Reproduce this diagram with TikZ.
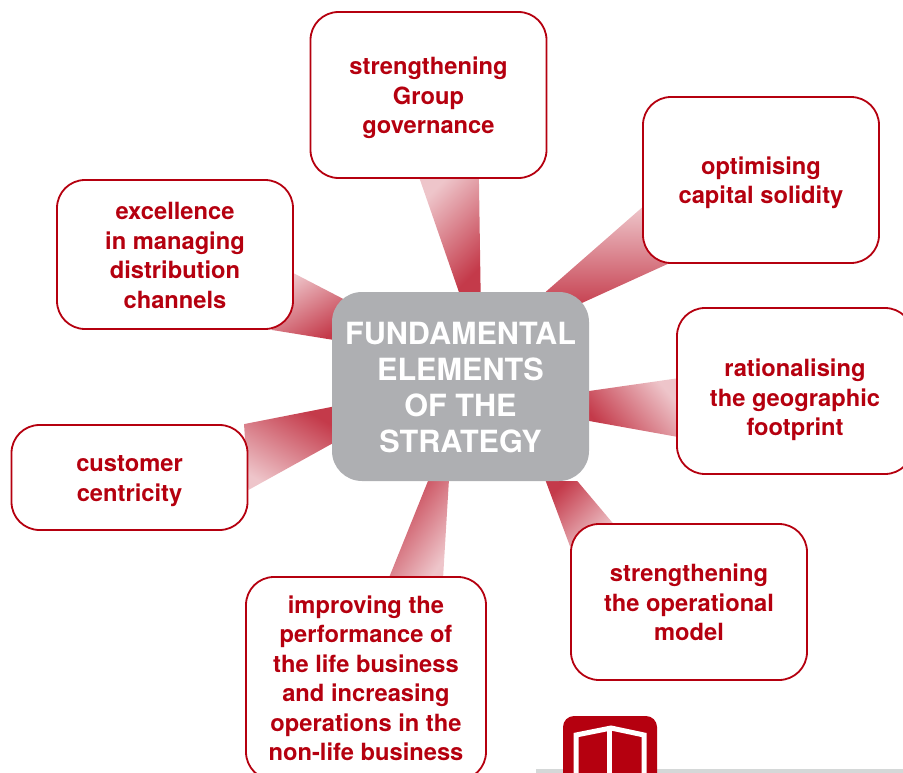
\documentclass[tikz,border=0pt]{standalone}
\usepackage{fontspec}
\setmainfont{TeX Gyre Heros}
\usetikzlibrary{backgrounds,calc}
\definecolor{strategyred}{HTML}{B5000F}
\definecolor{hubgrey}{HTML}{AEAFB2}
\definecolor{rulegrey}{HTML}{D5D8D8}
\definecolor{spokedark}{HTML}{C43A4A}
\definecolor{spokelight}{HTML}{EEC5CA}

\begin{document}
\begin{tikzpicture}
[x=1pt,y=-1pt,%
  every node/.style={shape=rectangle,align=center,font=\fontsize{23.7}{29.5}\selectfont\bfseries},%
  goalbox/.style={draw=strategyred,line width=1.8pt,fill=white,text=strategyred,rounded corners=28pt,minimum width=236pt},%
  hubbox/.style={fill=hubgrey,text=white,rounded corners=30pt,minimum width=257pt,minimum height=189pt,font=\fontsize{30.6}{36.2}\selectfont\bfseries},%
  spoke/.style={top color=spokelight,bottom color=spokedark,draw=none}]
\useasboundingbox (0,0) rectangle (903,773);
\node[hubbox] (hub) at (460.5,386.5) {\rule{0pt}{24pt}FUNDAMENTAL\\ELEMENTS\\OF THE\\STRATEGY};
\node[goalbox,minimum height=166pt] (governance) at (428.5,95) {\rule{0pt}{23.5pt}strengthening\\Group\\governance};
\node[goalbox,minimum height=166pt] (capital) at (761,180) {\rule{0pt}{23.5pt}optimising\\capital solidity};
\node[goalbox,minimum height=166pt] (footprint) at (795,391) {\rule{0pt}{36pt}rationalising\\the geographic\\footprint};
\node[goalbox,minimum height=156pt] (operational) at (689,602) {\rule{0pt}{19pt}strengthening\\the operational\\model};
\node[goalbox,minimum width=240pt,minimum height=203pt] (business) at (366,678.5) {improving the\\performance of\\the life business\\and increasing\\operations in the\\non-life business};
\node[goalbox,minimum height=105pt] (customer) at (129.5,477.5) {\rule{0pt}{23pt}customer\\centricity};
\node[goalbox,minimum height=149pt] (channels) at (175,254.5) {\rule{0pt}{19pt}excellence\\in managing\\distribution\\channels};
% spokes stay under the boxes
\begin{scope}[on background layer]
\path[spoke,shading angle=45] (hub.91.5) -- (hub.78.3) -- (governance.-59.7) -- (governance.-96.5) -- cycle;
\path[spoke,shading angle=0] (hub.48.9) -- ($(capital.222.4)!1.3!(hub.34.9)$) -- (capital.222.4) -- (capital.193.8) -- cycle;
\path[spoke,shading angle=-50] (hub.-2.45) -- (hub.-15.4) -- (footprint.201.3) -- (footprint.174.7) -- cycle;
\path[spoke,shading angle=225] (hub.-48.9) -- (hub.-39.8) -- (operational.134.4) -- (operational.155.4) -- cycle;
\path[spoke,shading angle=235] (hub.-109) -- (hub.-97.5) -- (business.53.1) -- (business.77.4) -- cycle;
\path[spoke,shading angle=150] (hub.189.06) -- (hub.204.8) -- (customer.-6) -- (customer.25.4) -- cycle;
\path[spoke,shading angle=30] ($(channels.-9.4)!1.4!(hub.144)$) -- (hub.160.1) -- (channels.-38.1) -- (channels.-9.4) -- cycle;
\end{scope}
% icon at the foot of the page
\fill[rulegrey] (536,769) rectangle (903,773);
\fill[strategyred,rounded corners=11pt] (563,716) rectangle (657,800);
\draw[white,line width=5pt] (576,780) -- (576,735) -- (611,728) -- (644,735) -- (644,780);
\draw[white,line width=5pt] (609,730) -- (609,780);
\end{tikzpicture}
\end{document}
